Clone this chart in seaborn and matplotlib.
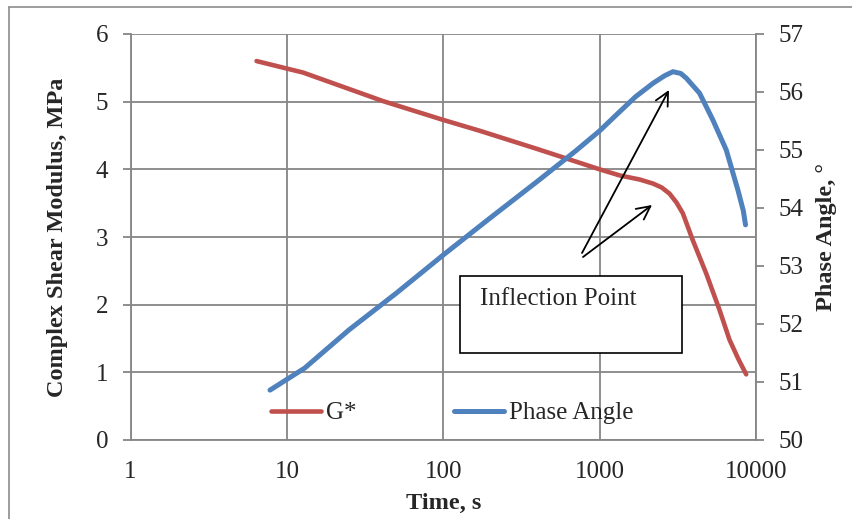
import numpy as np
import pandas as pd
import matplotlib
matplotlib.use("Agg")
import matplotlib.pyplot as plt
from matplotlib.lines import Line2D
import seaborn as sns

# ---- data ----
g_time = [6.4, 12.7, 41, 100, 171, 400, 1000, 1343, 1800, 2193, 2500, 2801, 3100, 3405, 3946, 4806, 5848, 6773, 7700, 8656]
g_star = [5.60, 5.43, 5.01, 4.73, 4.57, 4.30, 4.00, 3.91, 3.85, 3.79, 3.73, 3.64, 3.51, 3.35, 2.95, 2.46, 1.92, 1.48, 1.20, 0.97]

p_time = [7.8, 13.0, 25, 50, 100, 200, 400, 700, 1000, 1343, 1700, 2193, 2600, 2943, 3300, 3580, 4355, 5294, 6454, 7660, 8300, 8570]
p_angle = [50.86, 51.24, 51.90, 52.53, 53.19, 53.83, 54.46, 54.98, 55.33, 55.66, 55.92, 56.15, 56.28, 56.35, 56.32, 56.24, 55.98, 55.52, 55.00, 54.31, 53.95, 53.71]

x_ticks = [1, 10, 100, 1000, 10000]
left_ticks = [0, 1, 2, 3, 4, 5, 6]
right_ticks = [50, 51, 52, 53, 54, 55, 56, 57]

RED = "#C0504D"
BLUE = "#4F81BD"
GRID = "#868686"

sns.set_style("white")
plt.rcParams["font.family"] = ["Liberation Serif", "DejaVu Serif"]

W, H = 852, 519
fig = plt.figure(figsize=(W / 100, H / 100), dpi=100)
ax = fig.add_axes([130.5 / W, 1 - 440 / H, (756 - 130.5) / W, (440 - 34) / H])
ax2 = ax.twinx()

dg = pd.DataFrame({"t": g_time, "G": g_star})
dp = pd.DataFrame({"t": p_time, "P": p_angle})

sns.lineplot(data=dg, x="t", y="G", ax=ax, color=RED, lw=3.3, solid_capstyle="round", legend=False)
sns.lineplot(data=dp, x="t", y="P", ax=ax2, color=BLUE, lw=3.6, solid_capstyle="round", legend=False)

for a in (ax, ax2):
    a.set_xscale("log")
    a.set_xlim(1, 10000)
ax.set_ylim(0, 6)
ax2.set_ylim(50, 57)
ax.set_xticks(x_ticks)
ax.set_xticklabels([str(v) for v in x_ticks])
ax.xaxis.set_minor_locator(matplotlib.ticker.NullLocator())
ax2.xaxis.set_minor_locator(matplotlib.ticker.NullLocator())
ax.set_yticks(left_ticks)
ax2.set_yticks(right_ticks)
ax.grid(True, color=GRID, lw=1.3)
ax2.grid(False)
ax.set_axisbelow(True)

for a in (ax, ax2):
    for s in a.spines.values():
        s.set_visible(False)
ax.spines["left"].set_visible(True)
ax.spines["bottom"].set_visible(True)
ax2.spines["right"].set_visible(True)
for s in (ax.spines["left"], ax.spines["bottom"], ax2.spines["right"]):
    s.set_color(GRID)
    s.set_linewidth(1.3)

ax.tick_params(axis="y", which="major", direction="out", length=6, width=1.3, color=GRID,
               labelsize=18, pad=10)
ax.tick_params(axis="x", which="major", direction="out", length=6, width=1.3, color=GRID,
               labelsize=18, pad=9)
ax2.tick_params(axis="y", direction="out", length=6, width=1.3, color=GRID, labelsize=18, pad=10)

ax.set_xlabel("Time, s", fontsize=17.5, fontweight="bold", labelpad=7)
ax.set_ylabel("Complex Shear Modulus, MPa", fontsize=17.5, fontweight="bold", labelpad=20)
ax2.set_ylabel("Phase Angle, °", fontsize=17.5, fontweight="bold", labelpad=9)

# legend
handles = [Line2D([], [], color=RED, lw=3.3, solid_capstyle="round"),
           Line2D([], [], color=BLUE, lw=3.6, solid_capstyle="round")]
fig.legend(handles, ["G*", "Phase Angle"], loc="center left",
           bbox_to_anchor=(271 / W, 1 - 413 / H), ncol=2, frameon=False,
           fontsize=18, handlelength=2.0, handletextpad=0.2, columnspacing=3.9,
           borderpad=0, borderaxespad=0)

# annotation box
fig.patches.append(plt.Rectangle((460 / W, 1 - 353 / H), (682 - 460) / W, (353 - 276) / H,
                                 transform=fig.transFigure, fill=True, facecolor="white",
                                 edgecolor="black", lw=1.2, zorder=5))
fig.text(480 / W, 1 - 299 / H, "Inflection Point", fontsize=18, va="center", ha="left", zorder=6)

arrowprops = dict(arrowstyle="->", color="black", lw=1.3, mutation_scale=24)
fig.add_artist(matplotlib.patches.FancyArrowPatch((582 / W, 1 - 253 / H), (669 / W, 1 - 90 / H),
                                                  transform=fig.transFigure, shrinkA=0, shrinkB=0, **arrowprops))
fig.add_artist(matplotlib.patches.FancyArrowPatch((583 / W, 1 - 257 / H), (652 / W, 1 - 205 / H),
                                                  transform=fig.transFigure, shrinkA=0, shrinkB=0, **arrowprops))

# outer border (top and left visible)
fig.add_artist(Line2D([9 / W, 1], [1 - 7 / H, 1 - 7 / H], transform=fig.transFigure, color="#8C8C8C", lw=1.2))
fig.add_artist(Line2D([9 / W, 9 / W], [0, 1 - 7 / H], transform=fig.transFigure, color="#8C8C8C", lw=1.2))

fig.savefig("out.png", dpi=100)
